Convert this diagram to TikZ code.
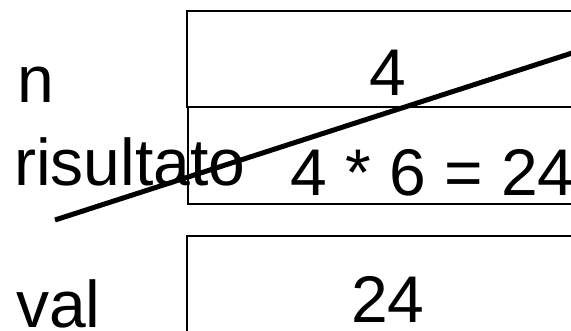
\documentclass[tikz,border=0pt]{standalone}
\usepackage{fontspec}
\setmainfont{Liberation Sans}
\usetikzlibrary{positioning}

\tikzset{
  cell/.style={draw, line width=1.8pt, minimum width=402pt, inner sep=0pt, anchor=north west},
  word/.style={inner sep=0pt, anchor=base west, font=\fontsize{66}{70}\selectfont},
}

\begin{document}
\begin{tikzpicture}[x=1pt, y=-1pt]
\useasboundingbox (0,0) rectangle (571,330);
% variable boxes
\node[cell, minimum height=96pt] (nbox) at (186,10) {};
\node[cell, minimum height=97pt] (resbox) at (187,106) {};
\node[cell, minimum height=120pt] (valbox) at (186,235) {};
% names
\node[word] (nname) at (17,102) {n};
\node[word] (resname) at (14,185) {risultato};
\node[word] (valname) at (16,327) {val};
% contents
\node[word] (nval) at (369,95) {4};
\node[word] (resval) at (290,195) {4 * 6 = 24};
\node[word] (valval) at (351,322) {24};
% crossing out
\coordinate (cross-s) at (55,220);
\coordinate (cross-e) at (600,44);
\draw[line width=5pt] (cross-s) -- (cross-e);
\end{tikzpicture}
\end{document}
